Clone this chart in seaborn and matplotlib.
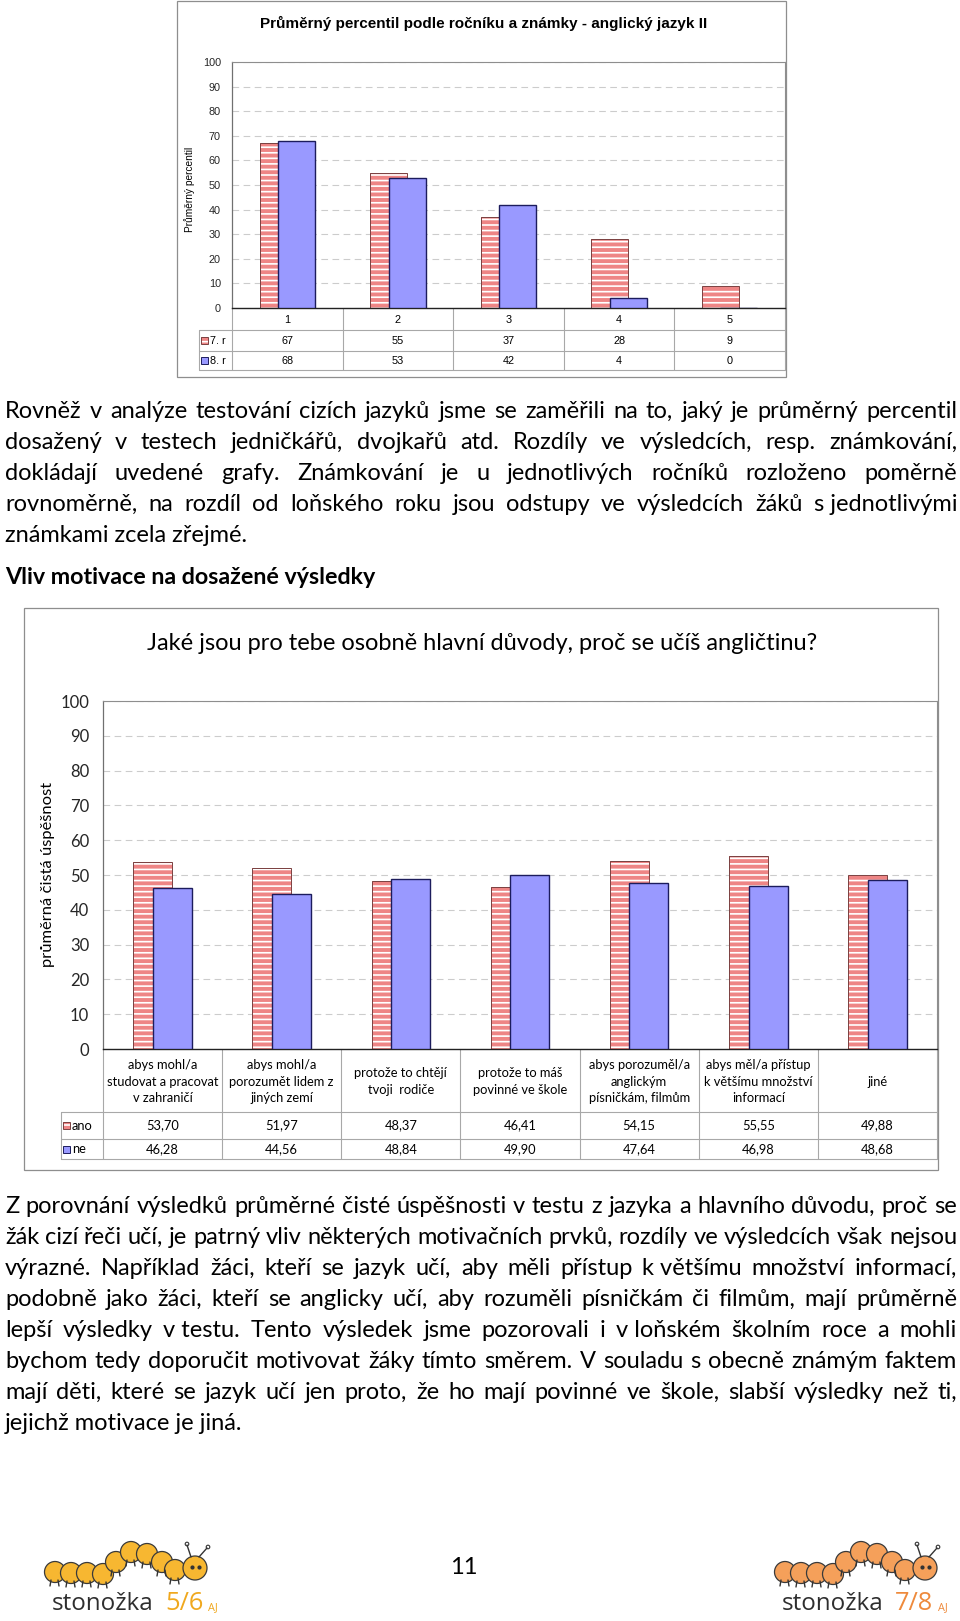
import matplotlib
matplotlib.use("Agg")
import matplotlib.pyplot as plt
from matplotlib.patches import Rectangle, Circle
from matplotlib.transforms import blended_transform_factory
import seaborn as sns
import pandas as pd
import numpy as np

W, H = 960, 1621

# --- data ---
znamky = ["1", "2", "3", "4", "5"]
rocniky = ["7. r", "8. r"]
percentil_7 = [67, 55, 37, 28, 9]
percentil_8 = [68, 53, 42, 4, 0]

duvody = [
    "abys mohl/a\nstudovat a pracovat\nv zahraničí",
    "abys mohl/a\nporozumět lidem z\njiných zemí",
    "protože to chtějí\ntvoji  rodiče",
    "protože to máš\npovinné ve škole",
    "abys porozuměl/a\nanglickým\npísničkám, filmům",
    "abys měl/a přístup\nk většímu množství\ninformací",
    "jiné",
]
odpovedi = ["ano", "ne"]
uspesnost_ano = [53.70, 51.97, 48.37, 46.41, 54.15, 55.55, 49.88]
uspesnost_ne = [46.28, 44.56, 48.84, 49.90, 47.64, 46.98, 48.68]

titulek_1 = "Průměrný percentil podle ročníku a známky - anglický jazyk II"
titulek_2 = "Jaké jsou pro tebe osobně hlavní důvody, proč se učíš angličtinu?"
nadpis = "Vliv motivace na dosažené výsledky"

odstavec_1 = [
    "Rovněž v analýze testování cizích jazyků jsme se zaměřili na to, jaký je průměrný percentil",
    "dosažený v testech jedničkářů, dvojkařů atd. Rozdíly ve výsledcích, resp. známkování,",
    "dokládají uvedené grafy. Známkování je u jednotlivých ročníků rozloženo poměrně",
    "rovnoměrně, na rozdíl od loňského roku jsou odstupy ve výsledcích žáků s\u00a0jednotlivými",
    "známkami zcela zřejmé.",
]
odstavec_2 = [
    "Z porovnání výsledků průměrné čisté úspěšnosti v testu z jazyka a hlavního důvodu, proč se",
    "žák cizí řeči učí, je patrný vliv některých motivačních prvků, rozdíly ve výsledcích však nejsou",
    "výrazné. Například žáci, kteří se jazyk učí, aby měli přístup k\u00a0většímu množství informací,",
    "podobně jako žáci, kteří se anglicky učí, aby rozuměli písničkám či filmům, mají průměrně",
    "lepší výsledky v\u00a0testu. Tento výsledek jsme pozorovali i v\u00a0loňském školním roce a mohli",
    "bychom tedy doporučit motivovat žáky tímto směrem. V souladu s obecně známým faktem",
    "mají děti, které se jazyk učí jen proto, že ho mají povinné ve škole, slabší výsledky než ti,",
    "jejichž motivace je jiná.",
]

# --- styl ---
C_CERVENA = "#EE8585"
C_CERVENA_OKRAJ = "#7a4040"
C_MODRA = "#9999FF"
C_MODRA_OKRAJ = "#1c1c5c"
C_RAM = "#8e8e8e"
C_TABULKA = "#a8a8a8"
C_MRIZKA = "#cccccc"
ARIAL = ["Liberation Sans", "DejaVu Sans"]
CALIBRI = ["Lato", "DejaVu Sans"]

sns.set_style("white")
plt.rcParams["font.family"] = CALIBRI
plt.rcParams["hatch.linewidth"] = 1.2
plt.rcParams["text.color"] = "black"

fig = plt.figure(figsize=(W / 100, H / 100), dpi=100)
renderer = fig.canvas.get_renderer()

pg = fig.add_axes([0, 0, 1, 1])
pg.set_xlim(0, W)
pg.set_ylim(H, 0)
pg.axis("off")


def sirka(text, size, **kw):
    t = pg.text(0, 0, text, fontsize=size, **kw)
    w = t.get_window_extent(renderer).width
    t.remove()
    return w


def fit(text, target, **kw):
    return 10 * target / sirka(text, 10, **kw)


def osa(left, top, right, bottom):
    return fig.add_axes([left / W, 1 - bottom / H, (right - left) / W, (bottom - top) / H])


def ctverec(x, y, barva, srafa):
    if srafa:
        pg.add_patch(Rectangle((x, y - 3.5), 7, 7, fc=barva, ec="white", lw=0, hatch="---", zorder=3))
        pg.add_patch(Rectangle((x, y - 3.5), 7, 7, fill=False, ec=C_CERVENA_OKRAJ, lw=0.7, zorder=4))
    else:
        pg.add_patch(Rectangle((x, y - 3.5), 7, 7, fc=barva, ec=C_MODRA_OKRAJ, lw=0.7, zorder=3))


def graf(ax, kategorie, serie, h1, h2, sirka_sloupce, geom, popisky, fmt, font, size_tick, size_tab):
    n = len(kategorie)
    df = pd.DataFrame({
        "kategorie": kategorie * 2,
        "serie": [serie[0]] * n + [serie[1]] * n,
        "hodnota": list(h1) + list(h2),
    })
    sns.barplot(data=df, x="kategorie", y="hodnota", hue="serie", hue_order=serie,
                palette={serie[0]: C_CERVENA, serie[1]: C_MODRA}, saturation=1,
                width=sirka_sloupce, gap=-1, dodge=True, errorbar=None, legend=False, ax=ax)
    bars = list(ax.patches)
    for p in bars[:n]:
        p.set_hatch("---")
        p.set_edgecolor("white")
        p.set_linewidth(0)
        p.set_zorder(2)
        ax.add_patch(Rectangle(p.get_xy(), p.get_width(), p.get_height(), fill=False,
                               ec=C_CERVENA_OKRAJ, lw=0.7, zorder=2.1))
    for p in bars[n:]:
        p.set_edgecolor(C_MODRA_OKRAJ)
        p.set_linewidth(1.0)
        p.set_zorder(3)

    ax.set_ylim(0, 100)
    ax.set_xlim(-0.5, n - 0.5)
    ax.set_yticks(np.arange(0, 101, 10))
    ax.set_xlabel("")
    ax.set_ylabel("")
    ax.yaxis.grid(True, color=C_MRIZKA, lw=0.8, ls=(0, (6, 4)))
    ax.set_axisbelow(True)
    ax.tick_params(axis="x", length=0, labelbottom=False)
    ax.tick_params(axis="y", direction="out", length=4, width=0.8, color="#606060",
                   pad=geom["pad"], labelsize=size_tick, labelfontfamily=font[0])
    for s in ["top", "right"]:
        ax.spines[s].set_color(C_RAM)
        ax.spines[s].set_linewidth(0.8)
    ax.spines["left"].set_color("#707070")
    ax.spines["left"].set_linewidth(0.9)
    ax.spines["bottom"].set_color("#222222")
    ax.spines["bottom"].set_linewidth(1.0)

    # tabulka pod grafem
    tr = blended_transform_factory(ax.transData, pg.transData)
    y0, r1, r2, r3 = geom["rows"]
    for b in np.arange(n + 1) - 0.5:
        ax.plot([b, b], [y0, r3], transform=tr, clip_on=False, color=C_TABULKA, lw=0.8)
    for yy in (r1, r2, r3):
        pg.plot([geom["tab_left"], geom["right"]], [yy, yy], color=C_TABULKA, lw=0.8)
    pg.plot([geom["tab_left"], geom["tab_left"]], [r1, r3], color=C_TABULKA, lw=0.8)
    for i, k in enumerate(popisky):
        ax.text(i, (y0 + r1) / 2 + geom["cat_dy"], k, transform=tr, ha="center", va="center",
                fontsize=size_tab, family=font, linespacing=geom["ls"])
        ax.text(i, (r1 + r2) / 2, fmt(h1[i]), transform=tr, ha="center", va="center",
                fontsize=size_tab, family=font)
        ax.text(i, (r2 + r3) / 2, fmt(h2[i]), transform=tr, ha="center", va="center",
                fontsize=size_tab, family=font)
    ctverec(geom["tab_left"] + 2, (r1 + r2) / 2, C_CERVENA, True)
    ctverec(geom["tab_left"] + 2, (r2 + r3) / 2, C_MODRA, False)
    pg.text(geom["tab_left"] + 11, (r1 + r2) / 2, serie[0], ha="left", va="center",
            fontsize=size_tab, family=font)
    pg.text(geom["tab_left"] + 11, (r2 + r3) / 2, serie[1], ha="left", va="center",
            fontsize=size_tab, family=font)


# --- graf 1 ---
pg.add_patch(Rectangle((177, 1), 609, 376, fill=False, ec=C_RAM, lw=0.9))
ax1 = osa(232, 62, 785, 308)
graf(ax1, znamky, rocniky, percentil_7, percentil_8, 0.335,
     {"pad": 4, "rows": (308, 330, 351, 370), "tab_left": 199, "right": 785, "cat_dy": 1, "ls": 1.2},
     znamky, lambda v: f"{v:g}", ARIAL, 7.8, 7.8)
pg.text(484, 28, titulek_1, ha="center", va="baseline", family=ARIAL, weight="bold",
        fontsize=fit(titulek_1, 446, family=ARIAL, weight="bold"))
pg.text(190, 189, "Průměrný percentil", rotation=90, ha="center", va="center", family=ARIAL,
        fontsize=fit("Průměrný percentil", 86, family=ARIAL))

# --- text ---
fs_text = fit("známkami zcela zřejmé.", 243)


def odstavec(radky, y0):
    for j, r in enumerate(radky):
        y = y0 + 31 * j
        if j == len(radky) - 1:
            pg.text(5, y, r, fontsize=fs_text, va="baseline", ha="left")
            continue
        slova = r.split(" ")
        sirky = [sirka(s, fs_text) for s in slova]
        mezera = (957 - 5 - sum(sirky)) / (len(slova) - 1)
        x = 5
        for s, w in zip(slova, sirky):
            pg.text(x, y, s, fontsize=fs_text, va="baseline", ha="left")
            x += w + mezera


odstavec(odstavec_1, 418)
pg.text(5, 584, nadpis, fontsize=fit(nadpis, 373, weight="bold"), weight="bold",
        va="baseline", ha="left")
odstavec(odstavec_2, 1213)
pg.text(464, 1574, "11", fontsize=fs_text, ha="center", va="baseline")

# --- graf 2 ---
pg.add_patch(Rectangle((24, 608), 914, 562, fill=False, ec=C_RAM, lw=0.9))
ax2 = osa(103, 701, 937, 1049)
graf(ax2, duvody, odpovedi, uspesnost_ano, uspesnost_ne, 0.328,
     {"pad": 6, "rows": (1049, 1112, 1139, 1159), "tab_left": 61, "right": 937, "cat_dy": 1, "ls": 1.45},
     duvody, lambda v: f"{v:.2f}".replace(".", ","), CALIBRI, 12, 9.3)
pg.text(482, 650, titulek_2, ha="center", va="baseline", fontsize=fit(titulek_2, 672))
pg.text(48, 874, "průměrná čistá úspěšnost", rotation=90, ha="center", va="center",
        fontsize=fit("průměrná čistá úspěšnost", 185))


# --- loga ---
def housenka(dx, dy, barva, cislo, barva_cisla):
    stred = [(55, 1572), (71, 1573), (87, 1573), (103, 1574), (116, 1562),
             (131, 1552), (147, 1554), (162, 1562), (175, 1570)]
    for x, y in stred:
        pg.plot([x - 4 + dx, x - 5 + dx], [y + 8 + dy, y + 14 + dy], color="#333333", lw=1)
        pg.plot([x + 3 + dx, x + 4 + dx], [y + 8 + dy, y + 14 + dy], color="#333333", lw=1)
    for x, y in stred:
        pg.add_patch(Circle((x + dx, y + dy), 10.5, fc=barva, ec="#3a3a3a", lw=0.9))
    hx, hy = 195 + dx, 1568 + dy
    pg.plot([hx - 4, hx - 8], [hy - 11, hy - 23], color="#333333", lw=1)
    pg.plot([hx + 4, hx + 12], [hy - 11, hy - 20], color="#333333", lw=1)
    pg.add_patch(Circle((hx - 8, hy - 24), 1.8, fc="white", ec="#333333", lw=0.8))
    pg.add_patch(Circle((hx + 13, hy - 21), 1.8, fc="white", ec="#333333", lw=0.8))
    pg.add_patch(Circle((hx, hy), 12, fc=barva, ec="#3a3a3a", lw=0.9))
    pg.plot([hx - 3, hx + 4], [hy - 1, hy - 1], ls="none", marker="o", ms=2, color="#333333")
    fs = fit("stonožka", 101, family="Open Sans")
    pg.text(52 + dx, 1610 + dy, "stonožka", fontsize=fs, family="Open Sans", color="#2e2e2e",
            va="baseline")
    pg.text(165 + dx, 1610 + dy, cislo, fontsize=fs * 1.05, family="Open Sans", color=barva_cisla,
            va="baseline")
    pg.text(208 + dx, 1610 + dy, "AJ", fontsize=fs * 0.45, family="Open Sans", color=barva_cisla,
            va="baseline")


housenka(0, 0, "#F7B731", "5/6", "#F0A81E")
housenka(730, 0, "#F5A05A", "7/8", "#EE8A3C")

fig.savefig("out.png", dpi=100)
